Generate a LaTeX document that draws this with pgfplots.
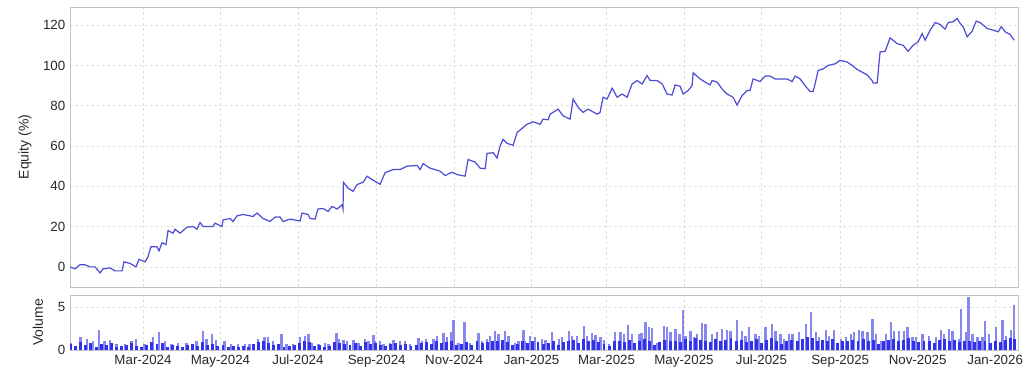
\documentclass[border=0pt]{standalone}
\usepackage{fontspec}
\setmainfont{Liberation Sans}
\usepackage{pgfplots}
\pgfplotsset{compat=1.18}
\definecolor{eqline}{RGB}{75,75,212}
\definecolor{voldark}{RGB}{50,50,235}
\definecolor{vollight}{RGB}{135,135,240}
\definecolor{framec}{RGB}{195,195,195}
\definecolor{gridc}{RGB}{222,222,222}
\definecolor{labc}{RGB}{40,40,40}
\begin{document}
\begin{tikzpicture}
\path[use as bounding box] (0,0) rectangle (768pt,280.5pt);
\pgfplotsset{base/.style={scale only axis, width=711pt, xmin=2.5, xmax=749,
  axis line style={draw=framec}, grid=major, grid style={dash pattern=on 2pt off 2pt, gridc},
  major tick length=0pt, tick label style={font=\fontsize{10}{12}\selectfont, text=labc},
  /pgf/number format/assume math mode=true,
  xtick={60,121,182,244,305,366,425,486,547,609,670,731},
  label style={font=\fontsize{10.5}{12}\selectfont, text=labc}}}
\begin{axis}[base, at={(52.5pt,65.25pt)}, anchor=south west, height=210pt,
  ymin=-10, ymax=129, ytick={0,20,...,120}, xticklabels={},
  ylabel={Equity (\%)}, ylabel style={at={(axis description cs:-0.0475,0.5)}, anchor=center}]
\addplot[eqline, line width=0.9pt] coordinates {
(2.5,0) (6.4,-1) (10.4,1) (14.3,1) (18.3,0) (22.2,0) (26.1,-3) (28.5,-1) (34.0,-0.5) (37.9,-2) (43.5,-2) (45.0,2.5) (49.8,1.7) (54.5,0) (56.8,3.7) (61.6,2.5) (63.9,5) (66.3,10) (71.0,10) (72.6,8) (75.0,12) (78.1,11) (79.7,18) (83.6,16.7) (85.2,18.7) (89.1,16.7) (94.7,19.7) (99.4,20) (102.5,18.7) (104.9,22) (107.3,20) (115.1,20) (116.7,21.7) (122.2,20) (123.0,23.3) (128.5,24) (130.9,22.5) (134.0,25.3) (138.8,26) (146.6,25) (149.8,26.7) (154.5,24) (160.0,22.5) (164.0,24.7) (167.9,24.7) (170.3,22.5) (175.8,23.7) (183.7,22.8) (185.2,26.7) (190.0,26) (191.5,24) (195.5,23.7) (197.8,28.7) (201.8,29) (205.7,27.5) (208.9,30) (212.8,28.7) (216.7,30.8) (217.5,28.7) (217.8,42) (221.5,39) (225.4,37.5) (228.5,40.8) (233.3,42) (236.4,45) (240.4,43.3) (246.7,41) (250.6,46.7) (256.9,48.3) (262.4,48.3) (267.9,50) (275.8,50.3) (278.2,48.3) (280.5,51.3) (286.0,49) (293.9,47.5) (297.9,45.3) (303.4,47) (307.3,45.8) (313.6,45) (316.0,53.3) (321.5,52) (325.4,49) (329.4,48.7) (330.9,56.3) (335.7,56.7) (338.8,54) (341.2,60) (343.5,63.3) (346.7,61.3) (351.4,60.3) (354.6,66.7) (359.3,69.2) (362.4,70.8) (367.2,72) (372.7,70.8) (375.0,73.3) (379.0,73) (380.6,75.8) (386.9,78.3) (390.8,75) (396.3,73.3) (398.7,83.3) (402.6,79.2) (406.6,76.7) (410.5,78.3) (417.6,75.8) (419.9,76.7) (422.3,84.2) (425.4,83.3) (429.4,88.7) (433.3,84.2) (437.3,85.8) (441.2,84.2) (445.1,90.8) (449.1,92.5) (453.0,90.8) (456.9,95) (459.3,92.5) (464.8,92.5) (468.8,90.8) (472.7,85.8) (476.6,85.3) (479.0,90.3) (482.9,89.7) (485.3,85.8) (489.2,87.5) (492.4,90) (493.2,96.3) (498.7,93.3) (502.6,91.7) (506.6,90.3) (508.1,92.5) (512.1,91.7) (516.0,88.3) (519.9,85.8) (524.6,84.2) (527.8,80.3) (531.7,85) (535.7,87.5) (538.0,87.5) (540.4,93.3) (545.9,92) (549.8,94.7) (553.8,94.7) (557.7,93.3) (567.1,93.3) (571.1,92) (573.5,94.7) (577.4,93.3) (581.3,90) (585.3,87) (587.6,87) (589.2,90.8) (591.6,97.5) (595.6,98.3) (599.5,100) (605.0,100.8) (608.9,102.5) (614.5,101.7) (618.4,100) (622.3,98) (630.2,95.3) (634.1,92.5) (634.9,91.3) (638.1,91.3) (640.4,106.7) (644.4,107) (648.3,113.7) (653.8,110.8) (658.6,110) (662.5,107) (666.4,110) (670.4,111.7) (673.5,115.8) (675.9,112.5) (679.8,117.5) (683.8,121.3) (687.7,120.3) (691.6,118) (694.0,121.3) (697.9,121.7) (701.1,123.3) (703.5,120.8) (705.8,119.2) (709.0,114.2) (712.9,117) (716.1,122) (719.2,121.3) (724.7,118.3) (729.5,117.5) (733.4,116.7) (735.8,119.2) (738.9,116.7) (742.9,115.3) (746.0,112.5)
};
\end{axis}
\begin{axis}[base, at={(52.5pt,18pt)}, anchor=south west, height=41.25pt,
  ymin=0, ymax=6.4, ytick={0,5},
  xticklabels={Mar-2024,May-2024,Jul-2024,Sep-2024,Nov-2024,Jan-2025,Mar-2025,May-2025,Jul-2025,Sep-2025,Nov-2025,Jan-2026},
  ylabel={Volume}, ylabel style={at={(axis description cs:-0.0338,0.5)}, anchor=center}]
\addplot[ycomb, vollight, line width=1.8pt] coordinates {
(3.5,0.87) (10.9,1.46) (16.1,1.26) (20.6,1.06) (25.3,2.32) (29.8,1.06) (33.8,1.14) (39.0,0.7) (45.6,0.7) (50.8,1.06) (54.7,1.26) (61.3,0.75) (67.9,1.46) (72.4,2.05) (77.1,1.06) (82.3,0.75) (87.6,0.87) (94.1,0.87) (102.0,1.06) (107.3,2.16) (109.9,1.26) (114.3,1.85) (117.7,1.14) (124.3,1.06) (129.5,0.75) (134.8,0.67) (140.1,0.67) (144.0,0.67) (150.6,1.26) (155.8,1.46) (158.5,1.46) (162.4,1.06) (168.9,1.85) (172.9,0.67) (178.1,0.67) (183.4,1.46) (187.4,1.65)
(190.2,1.85) (192.9,0.87) (198.1,0.75) (203.4,0.87) (206.0,0.67) (212.5,1.93) (213.9,1.26) (217.8,1.14) (220.4,1.06) (225.7,1.14) (229.6,0.87) (234.9,1.26) (237.5,1.06) (241.4,1.77) (242.7,1.06) (246.7,1.06) (249.3,0.75) (254.5,0.87) (257.2,1.14) (262.4,1.06) (266.4,1.06) (270.3,0.75) (276.9,1.38) (279.5,1.06) (282.6,1.26) (288.7,1.26) (291.3,1.65) (296.5,1.93) (299.2,1.46) (302.6,2.05) (304.4,3.50) (308.4,0.87) (313.1,3.23) (317.5,0.87) (324.1,1.93) (326.7,1.06) (330.7,1.26) (333.3,1.65) (337.2,2.16) (339.9,1.85) (345.1,2.16) (347.7,1.65) (353.0,0.87) (355.6,1.06) (359.5,2.32) (360.9,1.06) (364.8,1.65) (368.7,1.54) (374.0,1.26)
(376.9,1.14) (382.2,2.05) (387.4,1.26) (390.1,1.46) (395.3,2.16) (397.9,1.65) (401.9,1.65) (407.1,2.83) (409.7,1.65) (413.7,1.93) (416.3,1.77) (420.2,1.46) (422.9,1.14) (426.8,0.67) (431.5,2.05) (436.0,2.05) (438.6,1.85) (442.0,2.95) (445.2,1.85) (450.4,1.85) (452.5,1.93) (455.7,3.23) (458.3,2.63) (460.9,2.56) (464.9,0.87) (470.1,2.83) (472.7,2.63) (475.4,2.05) (479.3,2.44) (482.5,1.85) (485.1,4.68) (487.2,1.65) (491.1,2.24) (493.7,1.46) (496.4,1.85) (500.3,3.11) (502.9,3.03) (508.2,1.85) (512.1,2.05) (516.1,2.44) (520.0,2.32) (522.6,2.24) (527.9,3.50) (531.8,2.24) (534.4,1.65) (537.1,2.63) (542.3,1.85) (545.0,1.65) (550.2,2.71) (555.4,3.03) (558.1,2.24) (562.0,1.85)
(564.8,1.26) (568.8,1.85) (571.4,1.85) (576.7,2.05) (581.9,3.03) (585.8,4.41) (589.8,2.05) (592.4,1.46) (597.7,2.32) (600.3,1.65) (604.2,2.32) (609.5,1.26) (613.4,1.46) (617.3,1.85) (620.0,2.05) (623.9,2.32) (626.5,2.24) (630.5,2.05) (634.4,3.62) (637.0,1.85) (641.0,1.06) (644.9,1.85) (648.8,3.23) (651.5,2.24) (655.4,2.16) (659.3,2.24) (662.0,2.71) (665.9,1.46) (668.5,1.46) (673.8,1.85) (679.0,1.65) (684.3,1.46) (688.2,2.32) (690.8,1.85) (694.8,2.44) (697.4,2.24) (702.7,1.26) (704.0,4.80) (707.9,2.05) (710.0,6.18) (713.2,1.85) (717.1,1.46) (721.0,1.46) (723.1,3.35) (726.3,1.85) (731.5,2.71) (736.8,3.50) (739.4,1.65) (743.3,2.32) (745.9,5.20)
};
\addplot[ycomb, voldark, line width=2.2pt] coordinates {
(3,0.7) (7,0.5) (11,0.9) (15,0.6) (19,0.8) (23,0.4) (27,0.7) (31,0.6) (35,0.8) (39,0.3) (43,0.5) (47,0.6) (51,0.8) (55,0.5) (59,0.3) (63,0.6) (67,0.9) (71,0.7) (75,0.8) (79,0.4) (83,0.6) (87,0.5) (91,0.4) (95,0.6) (99,0.7) (103,0.5) (107,0.9) (111,0.6) (115,0.7) (119,0.5) (123,0.6) (127,0.4) (131,0.5) (135,0.3) (139,0.5) (143,0.4) (147,0.7) (151,0.9) (155,1.0) (159,0.8) (163,0.6) (167,0.7) (171,0.4) (175,0.5) (179,0.6) (183,0.8)
(187,1.0) (191,0.9) (195,0.5) (199,0.6) (203,0.4) (207,0.5) (211,0.9) (215,0.8) (219,0.7) (223,0.6) (227,0.8) (231,0.5) (235,0.9) (239,0.7) (243,0.8) (247,0.6) (251,0.5) (255,0.7) (259,0.8) (263,0.6) (267,0.7) (271,0.5) (275,0.6) (279,0.8) (283,0.9) (287,0.7) (291,1.0) (295,0.8) (299,0.9) (303,1.1) (307,0.6) (311,0.7) (315,0.9) (319,0.6) (323,1.0) (327,0.8) (331,0.9) (335,1.1) (339,1.0) (343,1.2) (347,0.9) (351,0.6) (355,0.7) (359,1.0) (363,0.8)
(367,1.1) (371,0.9) (375,0.7) (379,0.8) (383,1.0) (387,0.6) (391,0.9) (395,1.1) (399,1.2) (403,0.8) (407,1.3) (411,1.0) (415,1.2) (419,0.9) (423,0.7) (427,0.5) (431,1.0) (435,1.1) (439,0.9) (443,1.2) (447,0.8) (451,1.1) (455,1.3) (459,1.0) (463,0.6) (467,0.9) (471,1.2) (475,1.0) (479,1.1) (483,0.9) (487,1.3) (491,1.1) (495,1.4) (499,1.2) (503,1.0) (507,0.9) (511,1.3) (515,1.1) (519,1.2) (523,1.4) (527,1.0) (531,1.2) (535,0.9) (539,1.1) (543,1.3) (547,0.8) (551,1.2) (555,1.4) (559,1.1) (563,0.7) (567,1.0) (571,1.2) (575,1.1) (579,1.3) (583,1.5) (587,1.4) (591,1.0) (595,1.2) (599,1.1) (603,1.3) (607,0.8) (611,1.0) (615,1.1) (619,1.2) (623,1.0) (627,1.3) (631,1.1) (635,1.2) (639,0.7) (643,1.0) (647,1.2) (651,1.3) (655,1.1) (659,1.2) (663,1.4) (667,1.0) (671,0.9) (675,1.1) (679,1.0) (683,0.8) (687,1.2) (691,1.3) (695,1.1) (699,1.2) (703,0.9) (707,1.1) (711,1.0) (715,0.9) (719,1.0) (723,1.1) (727,0.8) (731,1.1) (735,0.9) (739,1.2) (743,1.4) (746,1.3)
};
\end{axis}
\end{tikzpicture}
\end{document}
